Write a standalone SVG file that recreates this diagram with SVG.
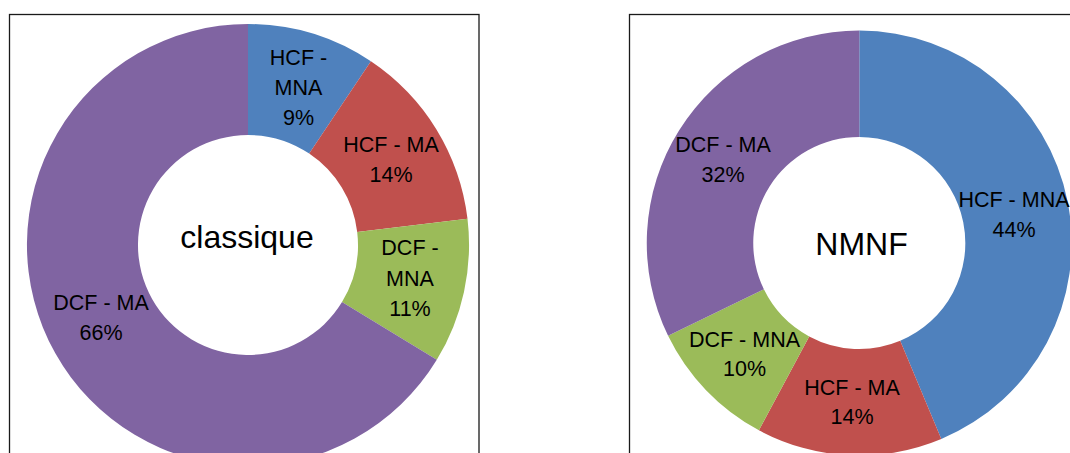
<svg xmlns="http://www.w3.org/2000/svg" width="1070" height="453" viewBox="0 0 1070 453">
<style>
.frame{fill:none;stroke:#1a1a1a;stroke-width:1.3}
.s1{fill:#4F81BD}.s2{fill:#C0504D}.s3{fill:#9BBB59}.s4{fill:#8064A2}
.lbl{font-family:"Liberation Sans",Arial,sans-serif;font-size:21.5px;fill:#000;text-anchor:middle}
.title{font-family:"Liberation Sans",Arial,sans-serif;font-size:32px;fill:#000;text-anchor:middle}
</style>
<rect x="0" y="0" width="1070" height="453" fill="#fff"/>
<rect class="frame" x="9.5" y="14.5" width="469.5" height="460"/>
<rect class="frame" x="629.5" y="14.5" width="460" height="460"/>

<g id="chart-classique">
  <g id="classique-hcf-mna">
    <path class="s1" d="M248,24 A221,221 0 0 1 370.9,61.3 L309.2,153.6 A110,110 0 0 0 248,135 Z"/>
    <text class="lbl" x="298.5" y="65">HCF -</text>
    <text class="lbl" x="298.5" y="95">MNA</text>
    <text class="lbl" x="298.5" y="125">9%</text>
  </g>
  <g id="classique-hcf-ma">
    <path class="s2" d="M370.9,61.3 A221,221 0 0 1 467.5,218.8 L357.2,232 A110,110 0 0 0 309.2,153.6 Z"/>
    <text class="lbl" x="391" y="151.5">HCF - MA</text>
    <text class="lbl" x="391" y="181.5">14%</text>
  </g>
  <g id="classique-dcf-mna">
    <path class="s3" d="M467.5,218.8 A221,221 0 0 1 436.8,359.8 L342,302.1 A110,110 0 0 0 357.2,232 Z"/>
    <text class="lbl" x="410" y="255">DCF -</text>
    <text class="lbl" x="410" y="285.5">MNA</text>
    <text class="lbl" x="410" y="316">11%</text>
  </g>
  <g id="classique-dcf-ma">
    <path class="s4" d="M436.8,359.8 A221,221 0 1 1 248,24 L248,135 A110,110 0 1 0 342,302.1 Z"/>
    <text class="lbl" x="101" y="310">DCF - MA</text>
    <text class="lbl" x="101" y="340">66%</text>
  </g>
  <text class="title" x="247" y="248">classique</text>
</g>

<g id="chart-nmnf">
  <g id="nmnf-hcf-mna">
    <path class="s1" d="M859.3,30.5 A212.5,212.5 0 0 1 941.3,439 L900.2,340.8 A106,106 0 0 0 859.3,137 Z"/>
    <text class="lbl" x="1014" y="206.5">HCF - MNA</text>
    <text class="lbl" x="1014" y="236.5">44%</text>
  </g>
  <g id="nmnf-hcf-ma">
    <path class="s2" d="M941.3,439 A212.5,212.5 0 0 1 758.9,430.3 L809.2,336.4 A106,106 0 0 0 900.2,340.8 Z"/>
    <text class="lbl" x="852" y="395">HCF - MA</text>
    <text class="lbl" x="852" y="424">14%</text>
  </g>
  <g id="nmnf-dcf-mna">
    <path class="s3" d="M758.9,430.3 A212.5,212.5 0 0 1 668.1,335.8 L763.9,289.3 A106,106 0 0 0 809.2,336.4 Z"/>
    <text class="lbl" x="744.5" y="346.5">DCF - MNA</text>
    <text class="lbl" x="744.5" y="376">10%</text>
  </g>
  <g id="nmnf-dcf-ma">
    <path class="s4" d="M668.1,335.8 A212.5,212.5 0 0 1 859.3,30.5 L859.3,137 A106,106 0 0 0 763.9,289.3 Z"/>
    <text class="lbl" x="723" y="151.5">DCF - MA</text>
    <text class="lbl" x="723" y="181.5">32%</text>
  </g>
  <text class="title" x="861.5" y="255">NMNF</text>
</g>
</svg>
